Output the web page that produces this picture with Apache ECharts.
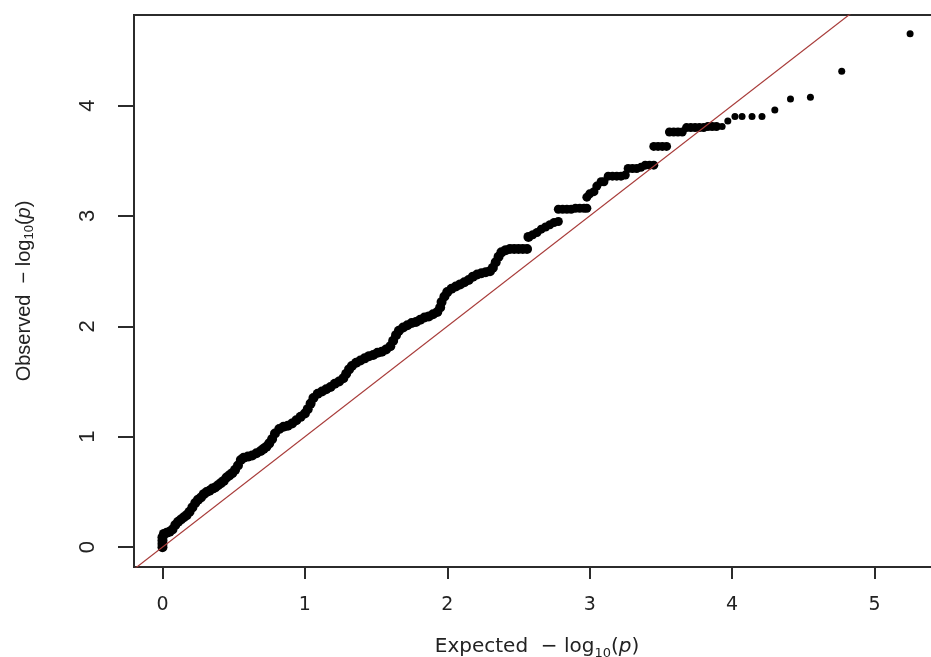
<!DOCTYPE html>
<html>
<head>
<meta charset="utf-8">
<script src="https://cdn.jsdelivr.net/npm/echarts@6/dist/echarts.min.js"></script>
<style>
html,body{margin:0;padding:0;background:#fff;overflow:hidden;}
#main{width:931px;height:657px;}
</style>
</head>
<body>
<div id="main"></div>
<script>
// Expected -log10(p) values (x)
const expected = [
0.00,0.00,0.00,0.00,0.01,0.03,0.05,0.07,0.09,0.11,0.13,0.15,0.17,0.19,0.21,0.23,0.25,0.27,0.29,0.31,
0.33,0.35,0.37,0.39,0.41,0.43,0.45,0.47,0.49,0.51,0.53,0.55,0.57,0.60,0.63,0.66,0.69,0.71,0.73,0.75,
0.77,0.79,0.82,0.85,0.88,0.91,0.94,0.97,1.00,1.02,1.04,1.06,1.09,1.12,1.15,1.18,1.21,1.24,1.27,1.29,
1.31,1.33,1.36,1.39,1.42,1.45,1.48,1.51,1.54,1.57,1.60,1.62,1.64,1.66,1.69,1.72,1.75,1.78,1.81,1.84,
1.87,1.90,1.93,1.95,1.96,1.98,2.00,2.03,2.06,2.09,2.12,2.15,2.18,2.21,2.24,2.27,2.30,2.32,2.34,2.36,
2.38,2.41,2.44,2.47,2.50,2.53,2.56,2.57,2.60,2.63,2.66,2.69,2.72,2.75,2.78,2.78,2.81,2.84,2.87,2.90,
2.93,2.96,2.98,2.98,3.00,3.03,3.05,3.08,3.10,3.13,3.16,3.19,3.22,3.25,3.27,3.30,3.33,3.36,3.39,3.42,
3.45,3.45,3.48,3.51,3.54,3.56,3.59,3.62,3.65,3.68,3.71,3.74,3.77,3.80,3.83,3.86,3.89,3.93,3.97,4.02,
4.07,4.14,4.21,4.30,4.41,4.55,4.77,5.25
];
// Observed -log10(p) values (y)
const observed = [
0.00,0.03,0.06,0.09,0.12,0.13,0.14,0.16,0.20,0.23,0.25,0.27,0.29,0.32,0.36,0.40,0.43,0.45,0.48,0.50,
0.51,0.53,0.54,0.56,0.58,0.60,0.63,0.65,0.67,0.70,0.74,0.79,0.81,0.82,0.83,0.85,0.87,0.89,0.91,0.94,
0.98,1.03,1.07,1.09,1.10,1.12,1.15,1.18,1.21,1.25,1.30,1.35,1.39,1.41,1.43,1.45,1.48,1.50,1.53,1.57,
1.61,1.64,1.67,1.69,1.71,1.73,1.74,1.76,1.77,1.79,1.82,1.87,1.92,1.96,1.99,2.01,2.03,2.04,2.06,2.08,
2.09,2.11,2.13,2.17,2.22,2.27,2.31,2.34,2.36,2.38,2.40,2.42,2.45,2.47,2.48,2.49,2.50,2.53,2.58,2.63,
2.67,2.69,2.70,2.70,2.70,2.70,2.70,2.81,2.83,2.85,2.88,2.90,2.92,2.94,2.95,3.06,3.06,3.06,3.06,3.07,
3.07,3.07,3.07,3.17,3.20,3.22,3.27,3.31,3.31,3.36,3.36,3.36,3.36,3.37,3.43,3.43,3.43,3.44,3.46,3.46,
3.46,3.63,3.63,3.63,3.63,3.76,3.76,3.76,3.76,3.80,3.80,3.80,3.80,3.80,3.81,3.81,3.81,3.81,3.86,3.90,
3.90,3.90,3.90,3.96,4.06,4.075,4.31,4.65
];
// Reference line y = x (end points)
const refLine = [-1, 7];
// Tick labels
const xTicks = [0, 1, 2, 3, 4, 5];
const yTicks = [0, 1, 2, 3, 4];

const points = expected.map((x, i) => [x, observed[i]]);
const lineData = refLine.map(v => [v, v]);

const chart = echarts.init(document.getElementById('main'), null, {renderer: 'canvas'});
const axisColor = '#2b2b2b';
const textColor = '#222';
chart.setOption({
  animation: false,
  backgroundColor: '#fff',
  grid: {
    left: 134, top: 15, width: 806, height: 552,
    containLabel: false, outerBoundsMode: 'none',
    show: true, borderColor: axisColor, borderWidth: 2, backgroundColor: 'transparent'
  },
  xAxis: {
    type: 'value', min: -0.2, max: 5.46,
    splitLine: {show: false},
    axisLine: {show: true, onZero: false, lineStyle: {color: axisColor, width: 2}},
    axisTick: {show: true, length: 12, lineStyle: {color: axisColor, width: 2}, customValues: xTicks},
    axisLabel: {
      customValues: xTicks, margin: 29, color: textColor,
      fontFamily: 'DejaVu Sans', fontSize: 19
    },
    name: '{a|Expected  − log}{s|10}{a|(}{i|p}{a|)}',
    nameLocation: 'middle', nameGap: 67,
    nameTextStyle: {
      color: textColor,
      rich: {
        a: {fontFamily: 'DejaVu Sans', fontSize: 20, color: textColor, lineHeight: 26, verticalAlign: 'middle'},
        s: {fontFamily: 'DejaVu Sans', fontSize: 13, color: textColor, lineHeight: 26, verticalAlign: 'bottom'},
        i: {fontFamily: 'DejaVu Sans', fontSize: 20, fontStyle: 'italic', color: textColor, lineHeight: 26, verticalAlign: 'middle'}
      }
    }
  },
  yAxis: {
    type: 'value', min: -0.18, max: 4.82,
    splitLine: {show: false},
    axisLine: {show: true, onZero: false, lineStyle: {color: axisColor, width: 2}},
    axisTick: {show: true, length: 16, lineStyle: {color: axisColor, width: 2}, customValues: yTicks},
    axisLabel: {
      customValues: yTicks, margin: 35, rotate: 90, color: textColor,
      fontFamily: 'Liberation Sans', fontSize: 22
    },
    name: '{a|Observed  − log}{s|10}{a|(}{i|p}{a|)}',
    nameLocation: 'middle', nameGap: 98, nameRotate: 90,
    nameTextStyle: {
      color: textColor,
      rich: {
        a: {fontFamily: 'Liberation Sans', fontSize: 20, color: textColor, lineHeight: 24, verticalAlign: 'middle'},
        s: {fontFamily: 'Liberation Sans', fontSize: 13, color: textColor, lineHeight: 24, verticalAlign: 'bottom'},
        i: {fontFamily: 'Liberation Sans', fontSize: 20, fontStyle: 'italic', color: textColor, lineHeight: 24, verticalAlign: 'middle'}
      }
    }
  },
  series: [
    {
      type: 'scatter',
      data: points,
      symbol: 'circle',
      symbolSize: function (v) { return v[0] < 2.6 ? 10 : (v[0] < 3.9 ? 9 : 7); },
      itemStyle: {color: '#000', opacity: 1},
      z: 2
    },
    {
      type: 'line',
      data: lineData,
      showSymbol: false,
      symbol: 'none',
      clip: true,
      lineStyle: {color: '#a83c3a', width: 1.2},
      z: 3
    }
  ]
});
</script>
</body>
</html>
